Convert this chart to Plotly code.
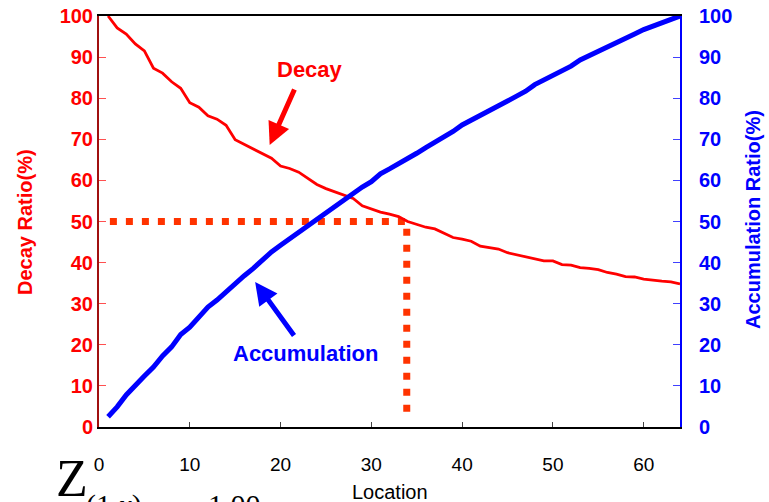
import plotly.graph_objects as go

# Location index along the profile
location = list(range(1, 65))

# Decay ratio (%) at each location
decay = [100.0, 97.1, 95.6, 93.2, 91.5, 87.3, 86.1, 84.0, 82.4, 78.9,
         77.8, 75.7, 74.9, 73.4, 69.9, 68.8, 67.8, 66.6, 65.4, 63.5,
         62.9, 62.0, 60.6, 59.0, 58.0, 57.2, 56.5, 55.6, 53.8, 53.0,
         52.3, 51.8, 51.2, 50.0, 49.3, 48.6, 48.2, 47.1, 46.1, 45.7,
         45.2, 44.0, 43.6, 43.3, 42.4, 41.9, 41.4, 40.9, 40.4, 40.4,
         39.5, 39.4, 38.8, 38.6, 38.3, 37.6, 37.2, 36.6, 36.5, 36.0,
         35.7, 35.5, 35.3, 34.8]

# Accumulation ratio (%) at each location
accumulation = [2.5, 4.9, 7.8, 10.3, 12.4, 14.6, 17.3, 19.5, 22.5, 24.3,
                26.6, 29.2, 30.9, 33.0, 35.0, 36.8, 38.6, 40.7, 42.6, 44.2,
                45.8, 47.3, 48.9, 50.5, 52.1, 53.6, 55.2, 56.8, 58.4, 59.7,
                61.6, 62.8, 64.0, 65.4, 66.6, 68.0, 69.3, 70.5, 71.9, 73.5,
                74.6, 75.9, 77.0, 78.2, 79.3, 80.5, 81.7, 83.3, 84.4, 85.6,
                86.7, 87.8, 89.3, 90.3, 91.3, 92.6, 93.6, 94.5, 95.6, 96.7,
                97.6, 98.5, 99.3, 100.0]

# Half-decay guide: horizontal at 50 % up to location 34, then down
guide_x = [1.2, 33.9, 33.9]
guide_y = [50, 50, 2.7]

ticks = [0, 10, 20, 30, 40, 50, 60]
ratio_ticks = [0, 10, 20, 30, 40, 50, 60, 70, 80, 90, 100]

SANS = "Liberation Sans"
SERIF = "Liberation Serif"
RED = "#FF0000"
BLUE = "#0000FF"

fig = go.Figure()

fig.add_trace(go.Scatter(x=guide_x, y=guide_y, mode="lines",
                         line=dict(color="#FF3300", width=7, dash="7px,9px"),
                         hoverinfo="skip", showlegend=False))
fig.add_trace(go.Scatter(x=location, y=decay, mode="lines",
                         line=dict(color=RED, width=2.8), showlegend=False))
fig.add_trace(go.Scatter(x=location, y=accumulation, mode="lines", yaxis="y2",
                         line=dict(color=BLUE, width=5), showlegend=False))

fig.update_layout(
    width=769, height=502,
    margin=dict(l=99, r=89, t=16, b=75, autoexpand=False),
    paper_bgcolor="white", plot_bgcolor="white",
    font=dict(family=SANS),
    xaxis=dict(range=[0, 64], tickvals=ticks, showgrid=False, zeroline=False,
               automargin=False,
               showline=True, linecolor="black", linewidth=2, mirror=True,
               ticks="inside", ticklen=5, tickcolor="#444444", tickwidth=1,
               ticklabelstandoff=19,
               tickfont=dict(family=SANS, size=19, color="black")),
    yaxis=dict(range=[0, 100], tickvals=ratio_ticks, showgrid=False,
               zeroline=False, automargin=False,
               showline=True, linecolor="#A01010", linewidth=2,
               ticks="inside", ticklen=7, tickcolor="#FF5050", tickwidth=1,
               ticksuffix="\u2002\u200a",
               tickfont=dict(family=SANS, size=20, color=RED, weight="bold")),
    yaxis2=dict(range=[0, 100], tickvals=ratio_ticks, overlaying="y",
                side="right", showgrid=False, zeroline=False, automargin=False,
                showline=True,
                linecolor=BLUE, linewidth=2, ticks="inside", ticklen=7,
                tickcolor="#4040FF", tickwidth=1, ticklabelstandoff=13,
                tickfont=dict(family=SANS, size=20, color=BLUE, weight="bold")),
)

annotations = [
    # axis titles
    dict(text="Decay Ratio(%)", xref="paper", yref="paper",
         x=(25 - 99) / 581, y=(427 - 222) / 411, textangle=-90,
         showarrow=False, xanchor="center", yanchor="middle",
         font=dict(family=SANS, size=20, color=RED, weight="bold")),
    dict(text="Accumulation Ratio(%)", xref="paper", yref="paper",
         x=(753 - 99) / 581, y=(427 - 220) / 411, textangle=-90,
         showarrow=False, xanchor="center", yanchor="middle",
         font=dict(family=SANS, size=20, color=BLUE, weight="bold")),
    dict(text="Location", xref="paper", yref="paper",
         x=(390 - 99) / 581, y=(427 - 492) / 411, showarrow=False,
         xanchor="center", yanchor="middle",
         font=dict(family=SANS, size=20, color="black")),
    # series labels with arrows
    dict(text="Decay", xref="x", yref="y", x=23.2, y=86.9, showarrow=False,
         font=dict(family=SANS, size=22, color=RED, weight="bold")),
    dict(text="", xref="x", yref="y", x=18.8, y=68.6, axref="x", ayref="y",
         ax=21.6, ay=82.5, showarrow=True, arrowhead=2, arrowsize=0.9,
         arrowwidth=5, arrowcolor=RED),
    dict(text="Accumulation", xref="x", yref="y", x=22.7, y=18.0,
         showarrow=False,
         font=dict(family=SANS, size=22, color=BLUE, weight="bold")),
    dict(text="", xref="x", yref="y", x=17.2, y=35.3, axref="x", ayref="y",
         ax=21.6, ay=21.9, showarrow=True, arrowhead=2, arrowsize=0.9,
         arrowwidth=5, arrowcolor=BLUE),
    # formula at the bottom edge
    dict(text="Z", xref="paper", yref="paper", x=(54 - 99) / 581,
         y=(427 - 448) / 411, xanchor="left", yanchor="top", showarrow=False,
         font=dict(family=SERIF, size=52, color="black")),
    dict(text="(1,<i>x</i>)", xref="paper", yref="paper", x=(84 - 99) / 581,
         y=(427 - 486) / 411, xanchor="left", yanchor="top", showarrow=False,
         font=dict(family=SERIF, size=30, color="black")),
    dict(text="1.00", xref="paper", yref="paper", x=(206 - 99) / 581,
         y=(427 - 486) / 411, xanchor="left", yanchor="top", showarrow=False,
         font=dict(family=SERIF, size=30, color="black")),
]
fig.update_layout(annotations=annotations)

fig.write_html("out.html")
